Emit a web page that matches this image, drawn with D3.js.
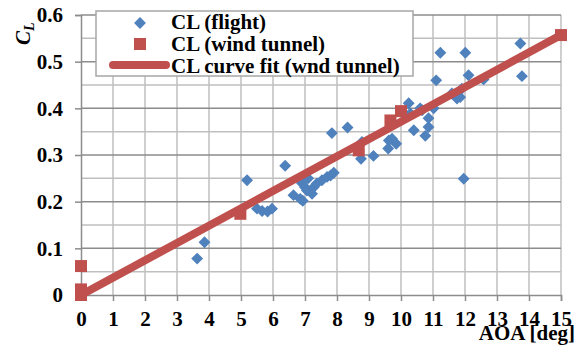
<!DOCTYPE html>
<html>
<head>
<meta charset="utf-8">
<script src="https://cdn.jsdelivr.net/npm/d3@7"></script>
<style>
  body { margin: 0; background: #fff; }
  svg text { font-family: "Liberation Serif", "Times New Roman", serif; font-weight: bold; fill: #000; }
</style>
</head>
<body>
<svg id="chart" width="584" height="354"></svg>
<script>
// flight data: AOA [deg] and CL
var flight_aoa = [3.63, 3.86, 5.19, 5.5, 5.66, 5.83, 5.97, 6.38, 6.64, 6.85, 6.93, 6.9, 7.0, 7.06, 7.1,
                  7.22, 7.27, 7.37, 7.53, 7.69, 7.8, 7.9, 7.84, 8.33, 8.78, 8.75, 9.14, 9.6, 9.62, 9.72,
                  9.85, 10.24, 10.29, 10.4, 10.6, 10.66, 10.76, 10.86, 10.86, 11.02, 11.1, 11.23, 11.59,
                  11.75, 11.85, 11.9, 11.96, 12.01, 12.11, 12.58, 13.73, 13.78];
var flight_cl  = [0.078, 0.113, 0.246, 0.185, 0.18, 0.179, 0.185, 0.277, 0.214, 0.206, 0.202, 0.24, 0.231, 0.224, 0.25,
                  0.217, 0.231, 0.239, 0.246, 0.253, 0.256, 0.262, 0.347, 0.359, 0.328, 0.292, 0.298, 0.314, 0.331, 0.335,
                  0.324, 0.411, 0.389, 0.353, 0.4, 0.396, 0.341, 0.36, 0.379, 0.4, 0.46, 0.519, 0.432,
                  0.421, 0.424, 0.442, 0.249, 0.519, 0.471, 0.462, 0.539, 0.469];
// wind tunnel
var wt_aoa = [0, 0, 0, 4.98, 8.68, 9.67, 10.0, 15];
var wt_cl  = [0, 0.012, 0.062, 0.174, 0.31, 0.374, 0.394, 0.557];
// curve fit (wind tunnel)
var fit_aoa = [0, 15];
var fit_cl  = [0, 0.557];

var x_ticks = d3.range(0, 16, 1);
var y_ticks = [0, 0.1, 0.2, 0.3, 0.4, 0.5, 0.6];
var y_minor = [0.05, 0.15, 0.25, 0.35, 0.45, 0.55];
var legend_labels = ["CL (flight)", "CL (wind tunnel)", "CL curve fit (wnd tunnel)"];

var blue = "#4f81bd", red = "#c0504d";
var fs = 21;

var svg = d3.select("#chart");
var m_left = 81, m_top = 15, w = 480, h = 280;

var x = d3.scaleLinear().domain([0, 15]).range([m_left, m_left + w]);
var y = d3.scaleLinear().domain([0, 0.6]).range([m_top + h, m_top]);

// grid
var grid = svg.append("g");
grid.selectAll(".vg").data(x_ticks.slice(1))
  .enter().append("line")
  .attr("x1", d => x(d)).attr("x2", d => x(d))
  .attr("y1", y(0)).attr("y2", y(0.6))
  .attr("stroke", "#bfbfbf").attr("stroke-width", 1.5);
grid.selectAll(".hm").data(y_minor)
  .enter().append("line")
  .attr("x1", x(0)).attr("x2", x(15))
  .attr("y1", d => y(d)).attr("y2", d => y(d))
  .attr("stroke", "#bfbfbf").attr("stroke-width", 1.5);
grid.selectAll(".hg").data(y_ticks.slice(1))
  .enter().append("line")
  .attr("x1", x(0)).attr("x2", x(15))
  .attr("y1", d => y(d)).attr("y2", d => y(d))
  .attr("stroke", "#8c8c8c").attr("stroke-width", 1.5);

// axes
var xAxis = svg.append("g")
  .attr("transform", "translate(0," + y(0) + ")")
  .call(d3.axisBottom(x).tickValues(x_ticks).tickSize(6).tickPadding(10).tickFormat(d3.format("d")));
var yAxis = svg.append("g")
  .attr("transform", "translate(" + x(0) + ",0)")
  .call(d3.axisLeft(y).tickValues(y_ticks).tickSize(6).tickPadding(12)
        .tickFormat(d => d === 0 ? "0" : d3.format(".1f")(d)));
[xAxis, yAxis].forEach(function(a){
  a.attr("font-family", null).attr("font-size", null);
  a.select(".domain").attr("stroke", "#8c8c8c").attr("stroke-width", 1.5);
  a.selectAll(".tick line").attr("stroke", "#8c8c8c").attr("stroke-width", 1.5);
  a.selectAll("text").attr("font-size", fs).attr("fill", "#000");
});

// flight diamonds
var diamond = d3.symbol().type(d3.symbolDiamond2).size(90);
svg.append("g").selectAll("path").data(flight_aoa)
  .enter().append("path")
  .attr("d", diamond)
  .attr("transform", (d, i) => "translate(" + x(d) + "," + y(flight_cl[i]) + ")")
  .attr("fill", blue);

// curve fit
var line = d3.line().x(d => x(d[0])).y(d => y(d[1]));
svg.append("path")
  .datum(fit_aoa.map((d, i) => [d, fit_cl[i]]))
  .attr("d", line)
  .attr("fill", "none").attr("stroke", red).attr("stroke-width", 8);

// wind tunnel squares
svg.append("g").selectAll("rect").data(wt_aoa)
  .enter().append("rect")
  .attr("x", d => x(d) - 6).attr("y", (d, i) => y(wt_cl[i]) - 6)
  .attr("width", 12).attr("height", 12)
  .attr("fill", red);

// legend
var lg = svg.append("g");
lg.append("rect").attr("x", 96).attr("y", 11).attr("width", 317).attr("height", 65)
  .attr("fill", "#fff").attr("stroke", "#a6a6a6").attr("stroke-width", 1.5);
lg.append("path").attr("d", diamond).attr("transform", "translate(140,23)").attr("fill", blue);
lg.append("rect").attr("x", 134).attr("y", 38).attr("width", 12).attr("height", 12).attr("fill", red);
lg.append("line").attr("x1", 113).attr("x2", 166).attr("y1", 65).attr("y2", 65)
  .attr("stroke", red).attr("stroke-width", 8).attr("stroke-linecap", "round");
lg.selectAll("text").data(legend_labels)
  .enter().append("text")
  .attr("x", 171).attr("y", (d, i) => 22 + i * 21.7)
  .attr("dy", "0.35em")
  .attr("font-size", fs)
  .text(d => d);

// axis titles
var yt = svg.append("text")
  .attr("transform", "translate(30,45) rotate(-90)")
  .attr("font-size", fs).attr("font-style", "italic");
yt.append("tspan").text("C");
yt.append("tspan").attr("font-size", 14).attr("dy", 4).text("L");

svg.append("text")
  .attr("x", 575).attr("y", 340)
  .attr("text-anchor", "end")
  .attr("font-size", fs)
  .text("AOA [deg]");
</script>
</body>
</html>
